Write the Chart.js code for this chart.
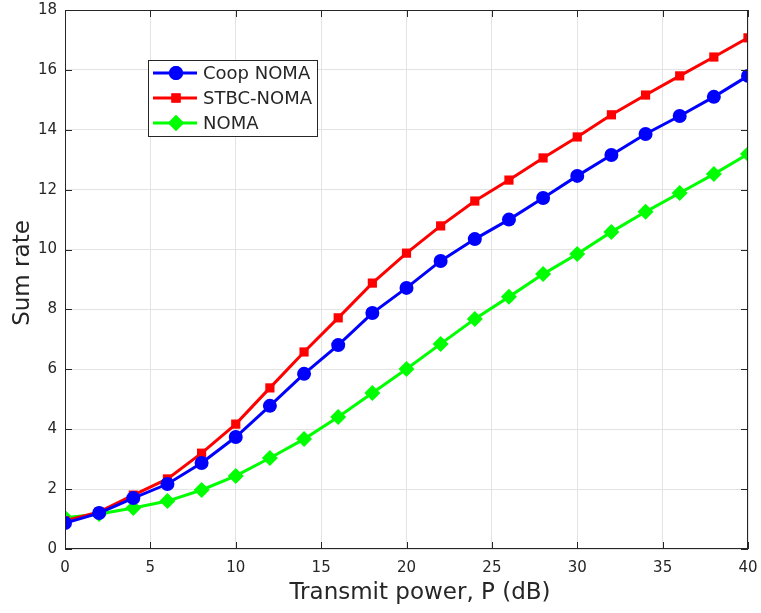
<!DOCTYPE html>
<html>
<head>
<meta charset="utf-8">
<script src="https://cdn.jsdelivr.net/npm/chart.js@4/dist/chart.umd.min.js"></script>
<style>
  html, body { margin: 0; padding: 0; background: #fff; }
  #wrap { width: 761px; height: 613px; }
</style>
</head>
<body>
<div id="wrap"><canvas id="chart" width="761" height="613"></canvas></div>
<script>
// puissance d'émission (dB)
const puissance = [0, 2, 4, 6, 8, 10, 12, 14, 16, 18, 20, 22, 24, 26, 28, 30, 32, 34, 36, 38, 40];

// débit somme par schéma
const coopNoma = [0.87, 1.2, 1.7, 2.17, 2.87, 3.74, 4.78, 5.85, 6.81, 7.88, 8.72, 9.62, 10.35, 11.0, 11.72, 12.46, 13.16, 13.86, 14.46, 15.1, 15.8];
const stbcNoma = [0.94, 1.24, 1.8, 2.34, 3.2, 4.17, 5.38, 6.58, 7.72, 8.88, 9.88, 10.79, 11.62, 12.32, 13.06, 13.76, 14.5, 15.16, 15.8, 16.43, 17.07];
const noma = [1.04, 1.17, 1.37, 1.6, 1.97, 2.44, 3.04, 3.67, 4.41, 5.21, 6.01, 6.85, 7.68, 8.42, 9.18, 9.85, 10.59, 11.26, 11.89, 12.52, 13.19];

const xTicks = [0, 5, 10, 15, 20, 25, 30, 35, 40];
const yTicks = [0, 2, 4, 6, 8, 10, 12, 14, 16, 18];

const titreX = 'Transmit power, P (dB)';
const titreY = 'Sum rate';

const police = 'DejaVu Sans, Verdana, sans-serif';

function serie(label, data, couleur, forme, rayon) {
  return {
    label,
    data: puissance.map((x, i) => ({ x, y: data[i] })),
    borderColor: couleur,
    backgroundColor: couleur,
    borderWidth: 3,
    pointStyle: forme,
    pointRadius: rayon,
    pointBorderWidth: 0,
    tension: 0
  };
}

// pas de marge automatique pour les étiquettes qui débordent
function sansDebord(s) {
  s.paddingLeft = 0; s.paddingRight = 0;
  s.paddingTop = 0; s.paddingBottom = 0;
}

// cadre, graduations intérieures, titres et légende à la MATLAB
const cadreMatlab = {
  id: 'cadreMatlab',
  afterDatasetsDraw(chart) {
    const { ctx, chartArea: a, scales } = chart;
    ctx.save();
    ctx.strokeStyle = '#262626';
    ctx.lineWidth = 1;
    ctx.strokeRect(a.left + 0.5, a.top + 0.5, a.right - a.left - 1, a.bottom - a.top - 1);
    ctx.beginPath();
    xTicks.forEach(v => {
      const px = Math.round(scales.x.getPixelForValue(v)) + 0.5;
      ctx.moveTo(px, a.bottom); ctx.lineTo(px, a.bottom - 7);
      ctx.moveTo(px, a.top); ctx.lineTo(px, a.top + 7);
    });
    yTicks.forEach(v => {
      const py = Math.round(scales.y.getPixelForValue(v)) + 0.5;
      ctx.moveTo(a.left, py); ctx.lineTo(a.left + 7, py);
      ctx.moveTo(a.right, py); ctx.lineTo(a.right - 7, py);
    });
    ctx.stroke();

    // titres des axes
    ctx.fillStyle = '#262626';
    ctx.font = '23px ' + police;
    ctx.textAlign = 'center';
    ctx.textBaseline = 'middle';
    ctx.fillText(titreX, 420, 593);
    ctx.save();
    ctx.translate(23, 273);
    ctx.rotate(-Math.PI / 2);
    ctx.fillText(titreY, 0, 0);
    ctx.restore();

    // légende
    const lx = 148, ly = 60, lw = 169, lh = 76;
    ctx.textAlign = 'left';
    ctx.fillStyle = '#fff';
    ctx.fillRect(lx, ly, lw, lh);
    ctx.strokeStyle = '#262626';
    ctx.strokeRect(lx + 0.5, ly + 0.5, lw, lh);
    ctx.font = '18px ' + police;
    chart.data.datasets.forEach((ds, i) => {
      const y = ly + 13 + i * 25;
      ctx.strokeStyle = ds.borderColor;
      ctx.lineWidth = 3;
      ctx.beginPath();
      ctx.moveTo(lx + 5, y); ctx.lineTo(lx + 49, y);
      ctx.stroke();
      ctx.fillStyle = ds.backgroundColor;
      Chart.helpers.drawPoint(ctx, { pointStyle: ds.pointStyle, radius: ds.pointRadius, rotation: 0, borderWidth: 0 }, lx + 28, y);
      ctx.fill();
      ctx.fillStyle = '#262626';
      ctx.fillText(ds.label, lx + 55, y + 1);
    });
    ctx.restore();
  }
};

new Chart(document.getElementById('chart'), {
  type: 'line',
  data: {
    datasets: [
      serie('Coop NOMA', coopNoma, '#0000ff', 'circle', 7),
      serie('STBC-NOMA', stbcNoma, '#ff0000', 'rect', 6.5),
      serie('NOMA', noma, '#00ff00', 'rectRot', 8)
    ]
  },
  options: {
    responsive: false,
    animation: false,
    layout: { padding: { top: 10, right: 13, left: 0, bottom: 0 } },
    plugins: { legend: { display: false }, tooltip: { enabled: false } },
    scales: {
      x: {
        type: 'linear',
        min: 0, max: 40,
        afterBuildTicks: s => { s.ticks = xTicks.map(v => ({ value: v })); },
        afterFit: s => { s.height = 64; sansDebord(s); },
        grid: { color: '#e3e3e3', drawTicks: false },
        border: { display: false },
        ticks: { color: '#262626', font: { family: police, size: 15 }, padding: 10 }
      },
      y: {
        type: 'linear',
        min: 0, max: 18,
        afterBuildTicks: s => { s.ticks = yTicks.map(v => ({ value: v })); },
        afterFit: s => { s.width = 65; sansDebord(s); },
        grid: { color: '#e3e3e3', drawTicks: false },
        border: { display: false },
        ticks: { color: '#262626', font: { family: police, size: 15 }, padding: 8 }
      }
    }
  },
  plugins: [cadreMatlab]
});
</script>
</body>
</html>
